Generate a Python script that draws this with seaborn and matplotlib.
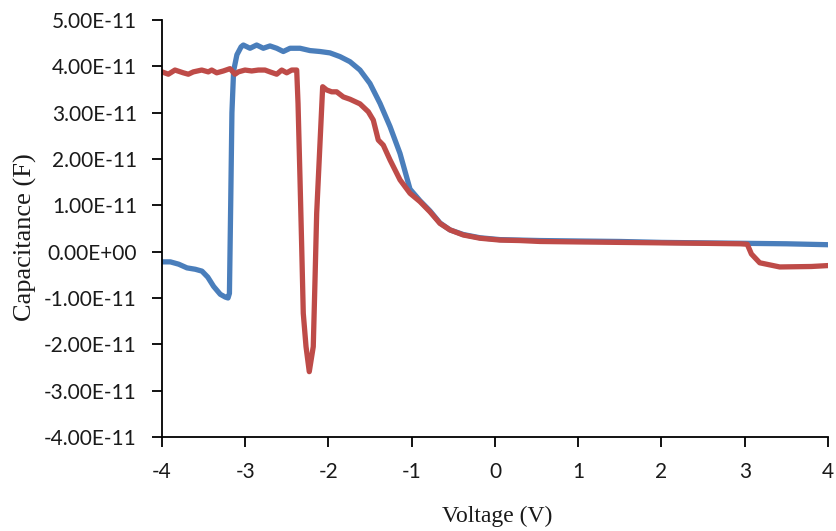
import matplotlib
matplotlib.use("Agg")
import matplotlib.pyplot as plt
import seaborn as sns
import numpy as np
import pandas as pd
from matplotlib.ticker import FormatStrFormatter

# Capacitance-voltage sweep, capacitance in units of 1e-11 F
blue_v = [-4.0, -3.9, -3.8, -3.7, -3.6, -3.52, -3.45, -3.38, -3.3, -3.24, -3.207,
          -3.19, -3.175, -3.16, -3.14, -3.1, -3.05, -3.023, -2.943, -2.863, -2.783,
          -2.703, -2.622, -2.543, -2.462, -2.342, -2.222, -2.102, -1.982, -1.862,
          -1.742, -1.622, -1.502, -1.381, -1.261, -1.141, -1.021, -0.901, -0.781,
          -0.661, -0.541, -0.381, -0.18, 0.06, 0.3, 0.541, 1.0, 1.5, 2.0, 2.5, 3.0,
          3.5, 4.0]
blue_c = [-0.22, -0.22, -0.27, -0.35, -0.38, -0.42, -0.55, -0.75, -0.92, -0.98, -1.0,
          -0.9, 1.0, 3.0, 3.9, 4.25, 4.42, 4.46, 4.39, 4.46, 4.39,
          4.44, 4.39, 4.32, 4.39, 4.39, 4.34, 4.32, 4.29, 4.21,
          4.10, 3.92, 3.63, 3.20, 2.70, 2.12, 1.35, 1.10, 0.88,
          0.62, 0.47, 0.37, 0.30, 0.26, 0.25, 0.24, 0.23, 0.22, 0.20, 0.19, 0.18,
          0.17, 0.15]

red_v = [-4.0, -3.924, -3.844, -3.744, -3.684, -3.624, -3.523, -3.444, -3.403,
         -3.343, -3.263, -3.183, -3.123, -3.083, -3.003, -2.923, -2.843, -2.763,
         -2.703, -2.622, -2.562, -2.502, -2.442, -2.382, -2.366, -2.342, -2.322,
         -2.303, -2.27, -2.231, -2.183, -2.162, -2.142, -2.123, -2.07, -2.022,
         -1.962, -1.902, -1.822, -1.742, -1.622, -1.522, -1.462, -1.402, -1.342,
         -1.261, -1.141, -1.021, -0.901, -0.781, -0.661, -0.541, -0.381, -0.18,
         0.06, 0.3, 0.541, 1.0, 1.5, 2.0, 2.5, 2.95, 3.03, 3.08, 3.18, 3.42, 3.8, 4.0]
red_c = [3.88, 3.83, 3.92, 3.86, 3.83, 3.88, 3.92, 3.88, 3.92,
         3.86, 3.90, 3.95, 3.83, 3.88, 3.92, 3.90, 3.92, 3.92,
         3.88, 3.83, 3.92, 3.86, 3.92, 3.92, 3.20, 1.55, 0.11,
         -1.33, -2.05, -2.59, -2.05, -0.61, 0.83, 1.55, 3.56, 3.49,
         3.45, 3.45, 3.34, 3.29, 3.19, 3.02, 2.84, 2.41, 2.30,
         1.98, 1.55, 1.26, 1.08, 0.86, 0.61, 0.47, 0.36, 0.29,
         0.25, 0.24, 0.22, 0.21, 0.20, 0.19, 0.18, 0.17, 0.16, -0.05, -0.24, -0.33, -0.32, -0.30]

y_ticks = np.arange(-4, 6, 1) * 1e-11
x_ticks = list(range(-4, 5))

frames = []
for name, v, c in (("blue", blue_v, blue_c), ("red", red_v, red_c)):
    frames.append(pd.DataFrame({"Voltage": v,
                                "Capacitance": np.array(c) * 1e-11,
                                "series": name}))
df = pd.concat(frames, ignore_index=True)

sns.set_style("ticks")
plt.rcParams["font.family"] = ["Lato", "DejaVu Sans"]
plt.rcParams["axes.unicode_minus"] = False

fig = plt.figure(figsize=(8.37, 5.31), dpi=100)
ax = fig.add_axes([162 / 837, 1 - 437 / 531, 666 / 837, 417 / 531])

sns.lineplot(data=df, x="Voltage", y="Capacitance", hue="series",
             palette={"blue": "#4a7ebb", "red": "#be4b48"},
             estimator=None, sort=False, linewidth=3.8, legend=False, ax=ax,
             solid_joinstyle="round", solid_capstyle="round")

ax.set_xlim(-4, 4)
ax.set_ylim(-4e-11, 5e-11)
ax.set_xticks(x_ticks)
ax.set_yticks(y_ticks)
ax.yaxis.set_major_formatter(FormatStrFormatter("%.2E"))

sns.despine(ax=ax)
for s in ("left", "bottom"):
    ax.spines[s].set_linewidth(1.3)
    ax.spines[s].set_color("black")
ax.tick_params(axis="both", direction="out", length=7, width=1.3,
               color="black", labelsize=15, labelcolor="#1a1a1a")
ax.tick_params(axis="y", pad=11)
ax.tick_params(axis="x", pad=11)

serif = ["Liberation Serif", "DejaVu Serif"]
ax.set_xlabel("Voltage (V)", family=serif, fontsize=17, color="#1a1a1a")
ax.set_ylabel("Capacitance (F)", family=serif, fontsize=19, color="#1a1a1a")
ax.xaxis.set_label_coords(0.503, -0.165)
ax.yaxis.set_label_coords(-0.188, 0.48)

fig.savefig("out.png", dpi=100)
